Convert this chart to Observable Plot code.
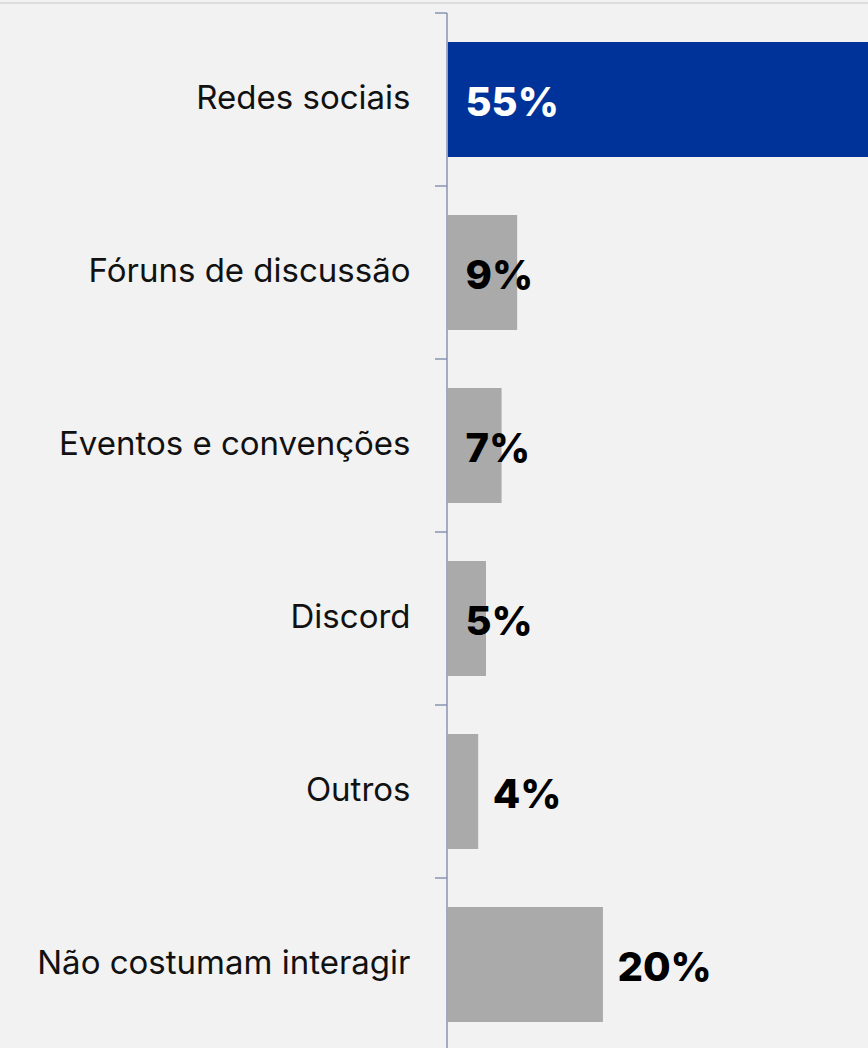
<!DOCTYPE html>
<html><head><meta charset="utf-8">
<script src="https://cdn.jsdelivr.net/npm/d3@7"></script>
<script src="https://cdn.jsdelivr.net/npm/@observablehq/plot@0.6"></script>
<style>
html,body{margin:0;padding:0;background:#f2f2f2;overflow:hidden;}
#topline{position:absolute;left:0;top:2px;width:868px;height:2px;background:#dddddd;}
#chart{position:absolute;left:0;top:0;}
</style></head><body>
<div id="topline"></div>
<div id="chart"></div>
<script>
const categories = ["Redes sociais", "Fóruns de discussão", "Eventos e convenções", "Discord", "Outros", "Não costumam interagir"];
const values = [55, 9, 7, 5, 4, 20];
const highlight = "Redes sociais";
const insideLabels = new Set(["Redes sociais", "Fóruns de discussão", "Eventos e convenções", "Discord"]);

const data = categories.map((c, i) => ({category: c, value: values[i]}));
const axisColor = "#8a94b2";

const boundaryTicks = (index, scales, values, dims) => {
  const y = scales.y;
  const bw = y.bandwidth ? y.bandwidth() : 0;
  const step = y.step ? y.step() : bw;
  const x0 = dims.marginLeft;
  const g = d3.create("svg:g");
  categories.forEach(c => {
    const yy = y(c) - (step - bw) / 2;
    g.append("line").attr("x1", x0 - 12).attr("x2", x0).attr("y1", yy).attr("y2", yy)
      .attr("stroke", axisColor).attr("stroke-width", 1.5);
  });
  g.append("line").attr("x1", x0).attr("x2", x0)
    .attr("y1", y(categories[0]) - (step - bw) / 2).attr("y2", dims.height)
    .attr("stroke", axisColor).attr("stroke-width", 1.5);
  return g.node();
};

const plot = Plot.plot({
  width: 868,
  height: 1052,
  marginTop: 13,
  marginBottom: 0,
  marginLeft: 447,
  marginRight: 0,
  style: {background: "transparent", fontFamily: "Inter, 'Noto Sans', sans-serif", overflow: "hidden"},
  x: {domain: [0, 54], axis: null},
  y: {domain: categories, paddingInner: 0.335, paddingOuter: 0.1675, label: null},
  marks: [
    Plot.barX(data, {x: "value", y: "category", fill: d => d.category === highlight ? "#003399" : "#aaaaaa", insetLeft: 0.75}),
    Plot.axisY({tickSize: 0, tickPadding: 37, fontSize: 33, fill: "#111", label: null, dy: -2}),
    boundaryTicks,
    Plot.text(data.filter(d => insideLabels.has(d.category)), {
      x: 0, y: "category", text: d => d.value + "%", textAnchor: "start", dx: 18, dy: 3,
      fill: d => d.category === highlight ? "#ffffff" : "#000000", fontSize: 40, fontWeight: 800
    }),
    Plot.text(data.filter(d => !insideLabels.has(d.category)), {
      x: "value", y: "category", text: d => d.value + "%", textAnchor: "start", dx: 14, dy: 3,
      fill: "#000000", fontSize: 40, fontWeight: 800
    })
  ]
});
document.getElementById("chart").appendChild(plot);
</script>
</body></html>
